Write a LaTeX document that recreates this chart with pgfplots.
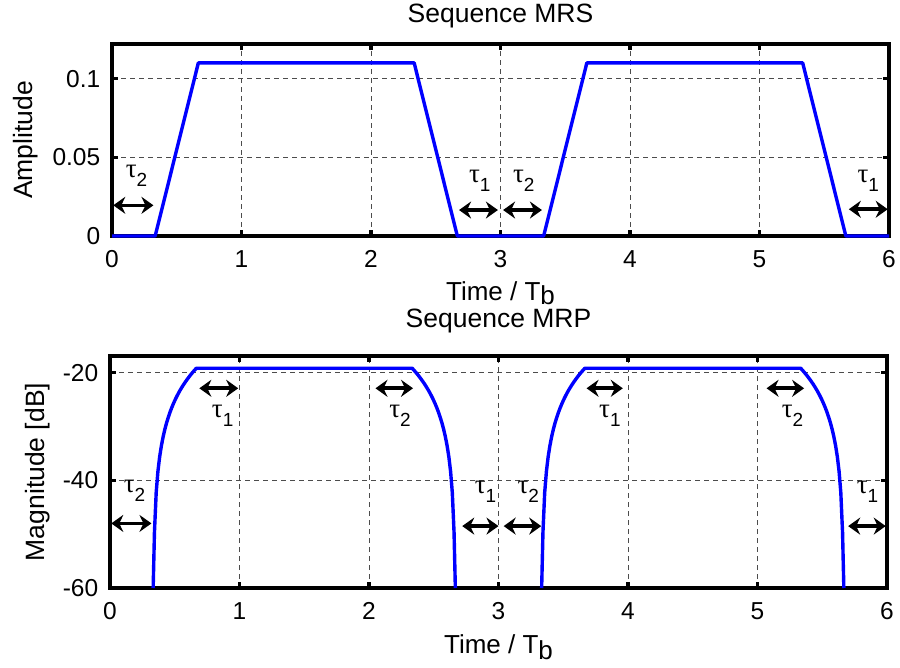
\documentclass[border=0pt]{standalone}
\usepackage{fontspec}
\setmainfont{Liberation Sans}
\newfontfamily\symfont{Liberation Serif}
\usepackage{pgfplots}
\pgfplotsset{compat=1.18}
\usetikzlibrary{arrows.meta}

\newcommand{\tauA}[1]{{\fontsize{27}{27}\selectfont\symfont τ}\raisebox{-9pt}{\fontsize{19}{19}\selectfont #1}}

\pgfplotstableread{
t db
0.3333 -60
0.3433 -49.63
0.3567 -42.27
0.3700 -38.34
0.3833 -35.65
0.3967 -33.59
0.4100 -31.94
0.4233 -30.54
0.4367 -29.34
0.4500 -28.29
0.4633 -27.35
0.4767 -26.50
0.4900 -25.73
0.5033 -25.02
0.5167 -24.36
0.5300 -23.75
0.5433 -23.18
0.5567 -22.65
0.5700 -22.14
0.5833 -21.67
0.5967 -21.22
0.6100 -20.79
0.6233 -20.38
0.6367 -19.99
0.6500 -19.62
0.6633 -19.26
0.6667 -19.17
2.3333 -19.17
2.3367 -19.26
2.3500 -19.62
2.3633 -19.99
2.3767 -20.38
2.3900 -20.79
2.4033 -21.22
2.4167 -21.67
2.4300 -22.14
2.4433 -22.65
2.4567 -23.18
2.4700 -23.75
2.4833 -24.36
2.4967 -25.02
2.5100 -25.73
2.5233 -26.50
2.5367 -27.35
2.5500 -28.29
2.5633 -29.34
2.5767 -30.54
2.5900 -31.94
2.6033 -33.59
2.6167 -35.65
2.6300 -38.34
2.6433 -42.27
2.6567 -49.63
2.6667 -60
}\pulseA

\pgfplotstableread{
t db
3.3333 -60
3.3433 -49.63
3.3567 -42.27
3.3700 -38.34
3.3833 -35.65
3.3967 -33.59
3.4100 -31.94
3.4233 -30.54
3.4367 -29.34
3.4500 -28.29
3.4633 -27.35
3.4767 -26.50
3.4900 -25.73
3.5033 -25.02
3.5167 -24.36
3.5300 -23.75
3.5433 -23.18
3.5567 -22.65
3.5700 -22.14
3.5833 -21.67
3.5967 -21.22
3.6100 -20.79
3.6233 -20.38
3.6367 -19.99
3.6500 -19.62
3.6633 -19.26
3.6667 -19.17
5.3333 -19.17
5.3367 -19.26
5.3500 -19.62
5.3633 -19.99
5.3767 -20.38
5.3900 -20.79
5.4033 -21.22
5.4167 -21.67
5.4300 -22.14
5.4433 -22.65
5.4567 -23.18
5.4700 -23.75
5.4833 -24.36
5.4967 -25.02
5.5100 -25.73
5.5233 -26.50
5.5367 -27.35
5.5500 -28.29
5.5633 -29.34
5.5767 -30.54
5.5900 -31.94
5.6033 -33.59
5.6167 -35.65
5.6300 -38.34
5.6433 -42.27
5.6567 -49.63
5.6667 -60
}\pulseB

\tikzset{
  arr/.style={line width=3.6pt, black, {Stealth[length=12pt,width=17pt,inset=4pt]}-{Stealth[length=12pt,width=17pt,inset=4pt]}},
  tlab/.style={anchor=base, inner sep=0pt},
}
\pgfplotsset{
  mstyle/.style={
    scale only axis, width=777pt,
    xmin=0, xmax=6,
    xtick={0,1,2,3,4,5,6},
    xticklabels={0,1,2,3,4,5,6},
    grid=major,
    line width=3.6pt,
    major grid style={black!70, line width=1pt, dash pattern=on 5pt off 4pt},
    axis line style={line width=3.6pt, black},
    every tick/.style={black, line width=3.2pt},
    major tick length=6pt,
    tick align=inside,
    tick label style={font=\fontsize{24.5}{28}\selectfont},
    every x tick label/.append style={anchor=base, yshift=-31pt},
    every y tick label/.append style={anchor=east, inner sep=0pt, xshift=-10pt},
    title style={font=\fontsize{26.5}{30}\selectfont, at={(0.5,1)}, anchor=base, inner sep=0pt},
    clip=false,
  },
}

\begin{document}
\begin{tikzpicture}
\useasboundingbox (0,0) rectangle (900pt,-668pt);

\begin{axis}[mstyle,
  at={(112pt,-44pt)}, anchor=north west,
  height=192pt,
  ymin=0, ymax=0.122,
  ytick={0,0.05,0.1}, yticklabels={0,0.05,0.1},
  title={Sequence MRS}, title style={yshift=15pt},
  xlabel={Time / T\raisebox{-4pt}{b}},
  ylabel={Amplitude},
  every axis x label/.style={at={(axis description cs:0.5,0)}, anchor=base, yshift=-64pt, inner sep=0pt, font=\fontsize{26}{30}\selectfont},
  every axis y label/.style={at={(axis description cs:-0.1017,0.5)}, rotate=90, anchor=base, inner sep=0pt, font=\fontsize{26.5}{30}\selectfont},
]
\addplot[blue, line width=3.4pt, line join=round] coordinates {
(0,0) (0.3333,0) (0.6667,0.11) (2.3333,0.11) (2.6667,0) (3.3333,0) (3.6667,0.11) (5.3333,0.11) (5.6667,0) (6,0)};
\draw[arr] (axis cs:0.01,0.0195) -- (axis cs:0.32,0.0195);
\draw[arr] (axis cs:2.68,0.0165) -- (axis cs:2.98,0.0165);
\draw[arr] (axis cs:3.02,0.0165) -- (axis cs:3.32,0.0165);
\draw[arr] (axis cs:5.69,0.017) -- (axis cs:5.99,0.017);
\node[tlab] at (axis cs:0.19,0.037) {\tauA{2}};
\node[tlab] at (axis cs:2.84,0.034) {\tauA{1}};
\node[tlab] at (axis cs:3.18,0.034) {\tauA{2}};
\node[tlab] at (axis cs:5.84,0.034) {\tauA{1}};
\end{axis}

\begin{axis}[mstyle,
  at={(110pt,-356pt)}, anchor=north west,
  height=232pt,
  ymin=-60, ymax=-16.9,
  ytick={-60,-40,-20}, yticklabels={-60,-40,-20},
  title={Sequence MRP}, title style={yshift=22pt},
  xlabel={Time / T\raisebox{-6pt}{b}},
  ylabel={Magnitude [dB]},
  every axis x label/.style={at={(axis description cs:0.5,0)}, anchor=base, yshift=-65pt, inner sep=0pt, font=\fontsize{26}{30}\selectfont},
  every axis y label/.style={at={(axis description cs:-0.0837,0.5)}, rotate=90, anchor=base, inner sep=0pt, font=\fontsize{26.5}{30}\selectfont},
]
\addplot[blue, line width=3.4pt, line join=round] table[x=t, y=db] {\pulseA};
\addplot[blue, line width=3.4pt, line join=round] table[x=t, y=db] {\pulseB};
\draw[arr] (axis cs:0.01,-48) -- (axis cs:0.32,-48);
\draw[arr] (axis cs:2.72,-48.5) -- (axis cs:3.00,-48.5);
\draw[arr] (axis cs:3.04,-48.5) -- (axis cs:3.33,-48.5);
\draw[arr] (axis cs:5.70,-48.5) -- (axis cs:5.99,-48.5);
\draw[arr] (axis cs:0.69,-22.9) -- (axis cs:0.99,-22.9);
\draw[arr] (axis cs:2.05,-22.9) -- (axis cs:2.34,-22.9);
\draw[arr] (axis cs:3.68,-22.9) -- (axis cs:3.96,-22.9);
\draw[arr] (axis cs:5.07,-22.9) -- (axis cs:5.36,-22.9);
\node[tlab] at (axis cs:0.19,-42.3) {\tauA{2}};
\node[tlab] at (axis cs:2.90,-42.5) {\tauA{1}};
\node[tlab] at (axis cs:3.23,-42.5) {\tauA{2}};
\node[tlab] at (axis cs:5.85,-42.5) {\tauA{1}};
\node[tlab] at (axis cs:0.87,-28.4) {\tauA{1}};
\node[tlab] at (axis cs:2.24,-28.4) {\tauA{2}};
\node[tlab] at (axis cs:3.86,-28.4) {\tauA{1}};
\node[tlab] at (axis cs:5.27,-28.4) {\tauA{2}};
\end{axis}
\end{tikzpicture}
\end{document}
